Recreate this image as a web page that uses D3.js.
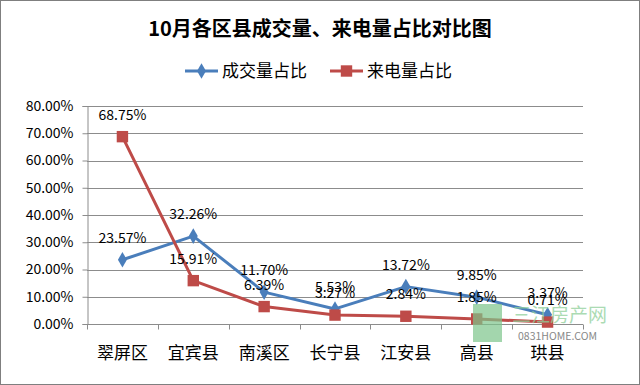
<!DOCTYPE html>
<html>
<head>
<meta charset="utf-8">
<script src="https://cdn.jsdelivr.net/npm/d3@7"></script>
<style>
  body { margin: 0; background: #fff; }
  svg text { font-family: "Noto Sans CJK SC", "DejaVu Sans", sans-serif; }
</style>
</head>
<body>
<svg id="chart" width="640" height="385"></svg>
<script>
var title = '10月各区县成交量、来电量占比对比图'
var districts = ['翠屏区', '宜宾县', '南溪区', '长宁县', '江安县', '高县', '珙县']
var dealShare = [23.57, 32.26, 11.70, 5.53, 13.72, 9.85, 3.37]   // 成交量占比
var callShare = [68.75, 15.91, 6.39, 3.27, 2.84, 1.85, 0.71]     // 来电量占比
var seriesNames = ['成交量占比', '来电量占比']
var yTicks = [0, 10, 20, 30, 40, 50, 60, 70, 80]

var svg = d3.select('#chart')
var W = 640, H = 385
var m = {top: 106, right: 57, bottom: 61, left: 87}

// outer frame
svg.append('rect').attr('x', 0.5).attr('y', 0.5).attr('width', W - 1).attr('height', H - 1)
    .attr('fill', '#fff').attr('stroke', '#7f7f7f')

svg.append('text').attr('x', 320).attr('y', 36).attr('text-anchor', 'middle')
    .attr('font-size', 20).attr('font-weight', 'bold').attr('fill', '#000').text(title)

var x = d3.scaleBand().domain(districts).range([m.left, W - m.right])
var y = d3.scaleLinear().domain([0, 80]).range([H - m.bottom, m.top])

// gridlines
svg.append('g').selectAll('line').data(yTicks.slice(1)).enter().append('line')
    .attr('x1', m.left).attr('x2', W - m.right)
    .attr('y1', function(d) { return Math.round(y(d)) + 0.5 })
    .attr('y2', function(d) { return Math.round(y(d)) + 0.5 })
    .attr('stroke', '#8c8c8c').attr('stroke-width', 1)

// y axis
var yAxis = svg.append('g').attr('transform', 'translate(' + (m.left + 0.5) + ',0)')
    .call(d3.axisLeft(y).tickValues(yTicks).tickSize(5).tickPadding(9)
        .tickFormat(function(d) { return d.toFixed(2) + '%' }))
yAxis.selectAll('text').attr('fill', '#000')
    .attr('font-family', '"DejaVu Sans", sans-serif').attr('font-size', 14)
yAxis.selectAll('line,path').attr('stroke', '#8c8c8c')

// x axis, ticks between categories
var xAxis = svg.append('g').attr('transform', 'translate(0,' + (Math.round(y(0)) + 0.5) + ')')
xAxis.append('line').attr('x1', m.left).attr('x2', W - m.right).attr('stroke', '#8c8c8c')
var bounds = districts.map(function(d) { return x(d) }).concat([W - m.right])
xAxis.selectAll('.tk').data(bounds).enter().append('line')
    .attr('x1', function(d) { return Math.round(d) + 0.5 }).attr('x2', function(d) { return Math.round(d) + 0.5 })
    .attr('y1', 0).attr('y2', 5).attr('stroke', '#8c8c8c')
xAxis.selectAll('text').data(districts).enter().append('text')
    .attr('x', function(d) { return x(d) + x.bandwidth() / 2 })
    .attr('y', 34).attr('text-anchor', 'middle').attr('font-size', 17).attr('fill', '#000')
    .text(String)

var cx = function(d, i) { return x(districts[i]) + x.bandwidth() / 2 }
var line = d3.line().x(cx).y(function(d) { return y(d) })

var series = [
    {name: seriesNames[0], values: dealShare, color: '#4a7ebb', marker: d3.symbolDiamond, size: 70},
    {name: seriesNames[1], values: callShare, color: '#be4b48', marker: d3.symbolSquare, size: 130}
]

series.forEach(function(s) {
    svg.append('path').datum(s.values).attr('d', line)
        .attr('fill', 'none').attr('stroke', s.color).attr('stroke-width', 3).attr('stroke-linejoin', 'round')
    svg.append('g').selectAll('path').data(s.values).enter().append('path')
        .attr('d', d3.symbol().type(s.marker).size(s.size))
        .attr('transform', function(d, i) { return 'translate(' + cx(d, i) + ',' + y(d) + ')' })
        .attr('fill', s.color)
})

// watermark sits on top of the lines
var wm = svg.append('g').attr('transform', 'translate(473,304)')
wm.append('rect').attr('width', 29).attr('height', 38).attr('fill', '#7cc58a').attr('opacity', 0.7)
wm.append('text').attr('x', 39).attr('y', 18).attr('font-size', 19).attr('fill', '#8fd09a')
    .attr('opacity', 0.75).text('三江房产网')
wm.append('text').attr('x', 45).attr('y', 36).attr('font-size', 10.5).attr('fill', '#888')
    .attr('font-family', '"DejaVu Sans Condensed", sans-serif').text('0831HOME.COM')

series.forEach(function(s) {
    svg.append('g').selectAll('text').data(s.values).enter().append('text')
        .attr('x', cx).attr('y', function(d) { return y(d) - 17 })
        .attr('text-anchor', 'middle').attr('font-size', 14).attr('fill', '#000')
        .attr('font-family', '"DejaVu Sans", sans-serif')
        .text(function(d) { return d.toFixed(2) + '%' })
})

// legend
var lg = svg.append('g').attr('transform', 'translate(185,71)')
series.forEach(function(s, i) {
    var g = lg.append('g').attr('transform', 'translate(' + (i * 145) + ',0)')
    g.append('line').attr('x1', 0).attr('x2', 33).attr('stroke', s.color).attr('stroke-width', 3)
    g.append('path').attr('d', d3.symbol().type(s.marker).size(s.size)).attr('transform', 'translate(16.5,0)')
        .attr('fill', s.color)
    g.append('text').attr('x', 37).attr('y', 6).attr('font-size', 17).attr('fill', '#000').text(s.name)
})
</script>
</body>
</html>
